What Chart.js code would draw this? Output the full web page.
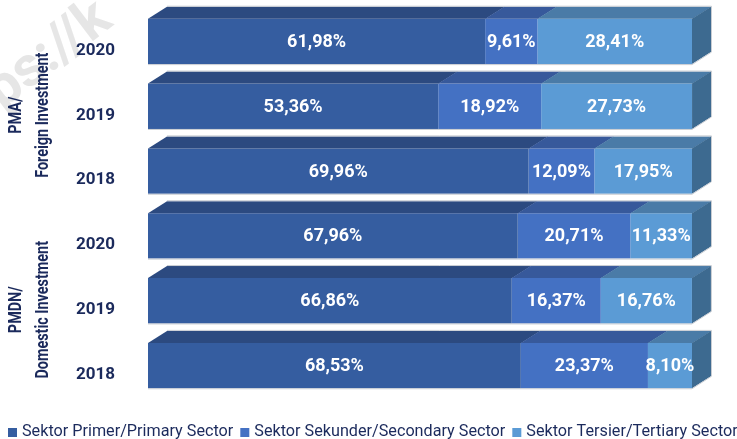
<!DOCTYPE html>
<html>
<head>
<meta charset="utf-8">
<script src="https://cdn.jsdelivr.net/npm/chart.js@4.4.0/dist/chart.umd.min.js"></script>
<style>
  html, body { margin: 0; padding: 0; background: #fff; }
</style>
</head>
<body>
<canvas id="myChart" width="737" height="439"></canvas>
<script>
"use strict";

const chartCanvas = document.querySelector("#myChart");

// Data
const years = ["2020", "2019", "2018", "2020", "2019", "2018"];
const groupLabels = [["PMA/", "Foreign Investment"], ["PMDN/", "Domestic Investment"]];
const sectorNames = [
  "Sektor Primer/Primary Sector",
  "Sektor Sekunder/Secondary Sector",
  "Sektor Tersier/Tertiary Sector",
];
const primaryShare = [61.98, 53.36, 69.96, 67.96, 66.86, 68.53];
const secondaryShare = [9.61, 18.92, 12.09, 20.71, 16.37, 23.37];
const tertiaryShare = [28.41, 27.73, 17.95, 11.33, 16.76, 8.1];

// Styles
const frontColors = ["#355da0", "#4471c3", "#5b9bd5"];
const topColors = ["#2c4a80", "#37599b", "#4a7ba7"];
const sideColor = "#3d6a90";
const edgeColor = "#c8ccd2";
const navy = "#1b2a5c";
const depthX = 19;
const depthY = 12;

const fmt = (v) => v.toFixed(2).replace(".", ",") + "%";

// faint watermark in the corner
const watermark = {
  id: "watermark",
  beforeDraw(chart) {
    const ctx = chart.ctx;
    ctx.save();
    ctx.translate(2, 110);
    ctx.rotate(-0.65);
    ctx.fillStyle = "#e6e6e6";
    ctx.font = "bold 56px Roboto";
    ctx.fillText("ps://k", 0, 0);
    ctx.restore();
  },
};

// top and right faces + value labels
const bar3d = {
  id: "bar3d",
  afterDatasetsDraw(chart) {
    const ctx = chart.ctx;
    const last = chart.data.datasets.length - 1;
    ctx.save();
    chart.data.datasets.forEach((ds, di) => {
      chart.getDatasetMeta(di).data.forEach((bar) => {
        const { x, y, base, height } = bar.getProps(["x", "y", "base", "height"], true);
        const top = y - height / 2;
        const bottom = y + height / 2;
        ctx.fillStyle = topColors[di];
        ctx.beginPath();
        ctx.moveTo(base, top);
        ctx.lineTo(base + depthX, top - depthY);
        ctx.lineTo(x + depthX + 0.5, top - depthY);
        ctx.lineTo(x + 0.5, top);
        ctx.closePath();
        ctx.fill();
        if (di === last) {
          ctx.fillStyle = sideColor;
          ctx.beginPath();
          ctx.moveTo(x, top);
          ctx.lineTo(x + depthX, top - depthY);
          ctx.lineTo(x + depthX, bottom - depthY);
          ctx.lineTo(x, bottom);
          ctx.closePath();
          ctx.fill();
        }
      });
    });

    // light outline round each whole bar
    const first = chart.getDatasetMeta(0).data;
    const end = chart.getDatasetMeta(last).data;
    ctx.strokeStyle = edgeColor;
    ctx.lineWidth = 1;
    first.forEach((bar, i) => {
      const { y, base, height } = bar.getProps(["y", "base", "height"], true);
      const x = end[i].getProps(["x"], true).x;
      const top = y - height / 2;
      const bottom = y + height / 2;
      ctx.beginPath();
      ctx.moveTo(base, bottom + 0.5);
      ctx.lineTo(x, bottom + 0.5);
      ctx.lineTo(x + depthX + 0.5, bottom - depthY);
      ctx.lineTo(x + depthX + 0.5, top - depthY - 0.5);
      ctx.lineTo(base + depthX, top - depthY - 0.5);
      ctx.stroke();
    });

    ctx.fillStyle = "#ffffff";
    ctx.font = "bold 18px Roboto";
    ctx.textAlign = "center";
    ctx.textBaseline = "middle";
    chart.data.datasets.forEach((ds, di) => {
      chart.getDatasetMeta(di).data.forEach((bar, i) => {
        const { x, y, base } = bar.getProps(["x", "y", "base"], true);
        ctx.fillText(fmt(ds.data[i]), (x + base) / 2, y + 1);
      });
    });
    ctx.restore();
  },
};

// group titles and legend
const extras = {
  id: "extras",
  afterDraw(chart) {
    const ctx = chart.ctx;
    const yScale = chart.scales.y;
    ctx.save();
    ctx.fillStyle = navy;
    ctx.font = "bold 18px Roboto";
    ctx.textAlign = "center";
    ctx.textBaseline = "alphabetic";
    groupLabels.forEach((lines, g) => {
      const cy = (yScale.getPixelForTick(g * 3) + yScale.getPixelForTick(g * 3 + 2)) / 2 + 9;
      lines.forEach((txt, li) => {
        ctx.save();
        ctx.translate(21 + li * 27, cy);
        ctx.rotate(-Math.PI / 2);
        ctx.scale(0.8, 1);
        ctx.fillText(txt, 0, 0);
        ctx.restore();
      });
    });

    // legend
    ctx.font = "16.2px Roboto";
    ctx.textAlign = "left";
    ctx.textBaseline = "middle";
    let lx = 8;
    const ly = 432;
    chart.data.datasets.forEach((ds) => {
      ctx.fillStyle = ds.backgroundColor;
      ctx.fillRect(lx, ly - 4, 9, 9);
      ctx.fillStyle = navy;
      ctx.fillText(ds.label, lx + 14, ly);
      lx += 14 + ctx.measureText(ds.label).width + 7;
    });
    ctx.restore();
  },
};

const data = {
  labels: years,
  datasets: [
    { label: sectorNames[0], data: primaryShare, backgroundColor: frontColors[0] },
    { label: sectorNames[1], data: secondaryShare, backgroundColor: frontColors[1] },
    { label: sectorNames[2], data: tertiaryShare, backgroundColor: frontColors[2] },
  ],
};

const config = {
  type: "bar",
  data,
  options: {
    indexAxis: "y",
    responsive: false,
    animation: false,
    devicePixelRatio: 1,
    layout: { padding: { left: 76, right: 45, top: 9, bottom: 41 } },
    datasets: {
      bar: { barPercentage: 0.7, categoryPercentage: 1, borderWidth: 0 },
    },
    scales: {
      x: { stacked: true, min: 0, max: 100, display: false },
      y: {
        stacked: true,
        grid: { display: false, drawTicks: false },
        border: { display: false },
        ticks: {
          crossAlign: "far",
          padding: 0,
          labelOffset: 9,
          color: navy,
          font: { family: "Roboto", weight: "bold", size: 17 },
        },
        afterFit(scale) {
          scale.width = 72;
          scale.paddingTop = 0;
          scale.paddingBottom = 0;
        },
      },
    },
    plugins: {
      legend: { display: false },
      tooltip: { enabled: false },
    },
  },
  plugins: [watermark, bar3d, extras],
};

const myChart = new Chart(chartCanvas, config);
</script>
</body>
</html>
